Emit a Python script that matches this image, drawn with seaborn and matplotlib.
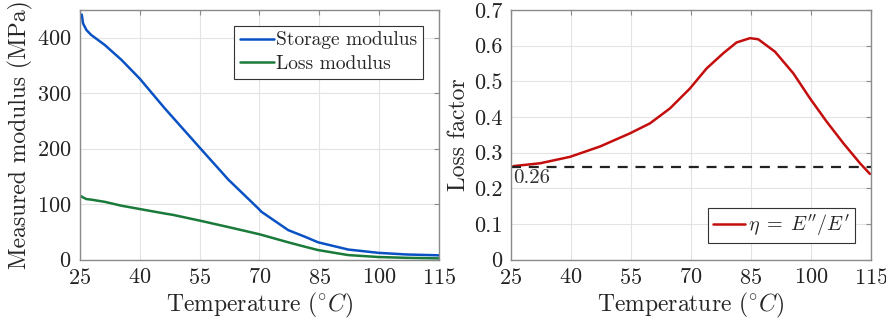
import numpy as np
import pandas as pd
import seaborn as sns
import matplotlib
matplotlib.use("Agg")
import matplotlib.pyplot as plt

# Data
temp_mod = [25.4, 25.5, 25.75, 26.6, 27.8, 31.2, 35.4, 40.0, 46.2, 48.3, 55.1, 62.2, 69.7, 70.5, 77.2, 81.4, 84.7, 92.2, 99.8, 107, 115]
storage = [442, 439, 426, 414, 405, 387, 360, 326, 273, 256, 201, 144, 92, 86, 53, 41, 31, 18, 12, 9, 7.5]
loss = [114, 113, 112, 109, 108, 104, 97, 91, 83, 80.5, 70, 58.5, 46, 44.5, 31, 23, 17, 8, 4.5, 3, 2]

temp_eta = [25.6, 32.3, 39.75, 47.25, 54.75, 59.75, 64.75, 69.75, 73.9, 78.1, 81.4, 84.75, 86.8, 91.0, 95.6, 99.75, 103.9, 108.1, 112.25, 114.75]
eta = [0.262, 0.270, 0.288, 0.317, 0.354, 0.382, 0.424, 0.480, 0.536, 0.579, 0.609, 0.621, 0.618, 0.583, 0.522, 0.452, 0.387, 0.326, 0.270, 0.240]

ref_level = 0.26
xticks = [25, 40, 55, 70, 85, 100, 115]

sns.set_theme(style="whitegrid")
plt.rcParams.update({
    "font.family": ["cmr10", "DejaVu Serif"],
    "mathtext.fontset": "cm",
    "axes.formatter.use_mathtext": True,
    "axes.unicode_minus": False,
})

df_mod = pd.DataFrame({"T": temp_mod, "Storage modulus": storage, "Loss modulus": loss})
df_eta = pd.DataFrame({"T": temp_eta, "eta": eta})

fig = plt.figure(figsize=(8.87, 3.24), dpi=100)
ax1 = fig.add_axes([80 / 887, 1 - 259.5 / 324, (439 - 80) / 887, (259.5 - 10) / 324])
ax2 = fig.add_axes([511 / 887, 1 - 259.5 / 324, (871 - 511) / 887, (259.5 - 10) / 324])

edge = "#8a8a8a"
blue = "#0a52c4"
green = "#1a7a3a"
red = "#c40d0d"

sns.lineplot(data=df_mod, x="T", y="Storage modulus", ax=ax1, color=blue, lw=1.8, label="Storage modulus")
sns.lineplot(data=df_mod, x="T", y="Loss modulus", ax=ax1, color=green, lw=1.8, label="Loss modulus")
ax1.set_xlim(25, 115)
ax1.set_ylim(0, 450)
ax1.set_yticks([0, 100, 200, 300, 400])
ax1.set_ylabel("Measured modulus (MPa)", fontsize=17, labelpad=3)

sns.lineplot(data=df_eta, x="T", y="eta", ax=ax2, color=red, lw=1.8, label=r"$\eta\;=\;E''/E'$")
ax2.axhline(ref_level, color="#222222", lw=1.6, ls=(0, (4.5, 3.5)))
ax2.text(25.6, ref_level - 0.006, "0.26", fontsize=15, va="top", ha="left", color="#333333")
ax2.set_xlim(25, 115)
ax2.set_ylim(0, 0.7)
ax2.set_yticks([0, 0.1, 0.2, 0.3, 0.4, 0.5, 0.6, 0.7])
ax2.set_yticklabels(["0", "0.1", "0.2", "0.3", "0.4", "0.5", "0.6", "0.7"])
ax2.set_ylabel("Loss factor", fontsize=17, labelpad=3)

for ax in (ax1, ax2):
    ax.set_xticks(xticks)
    ax.set_xlabel(r"Temperature $(^{\circ}C)$", fontsize=17, labelpad=2)
    ax.set_facecolor("white")
    ax.grid(True, color="#e3e3e3", lw=0.8)
    for s in ax.spines.values():
        s.set_visible(True)
        s.set_color(edge)
        s.set_linewidth(1.0)
    ax.tick_params(axis="both", which="both", direction="in", length=3.5, width=0.8,
                   colors="#222222", labelsize=16, top=True, right=True, pad=6)
    ax.tick_params(axis="both", color=edge)

leg1 = ax1.legend(loc="upper right", fontsize=14, frameon=True, fancybox=False,
                  edgecolor="#333333", framealpha=1, handlelength=1.75, handletextpad=0.15,
                  borderpad=0.3, labelspacing=0.3, borderaxespad=0.8)
leg1.get_frame().set_linewidth(0.8)
leg2 = ax2.legend(loc="lower right", fontsize=14.5, frameon=True, fancybox=False,
                  edgecolor="#333333", framealpha=1, handlelength=1.6, handletextpad=0.15,
                  borderpad=0.25, borderaxespad=0.8)
leg2.get_frame().set_linewidth(0.8)

fig.savefig("out.png", dpi=100, facecolor="white")
